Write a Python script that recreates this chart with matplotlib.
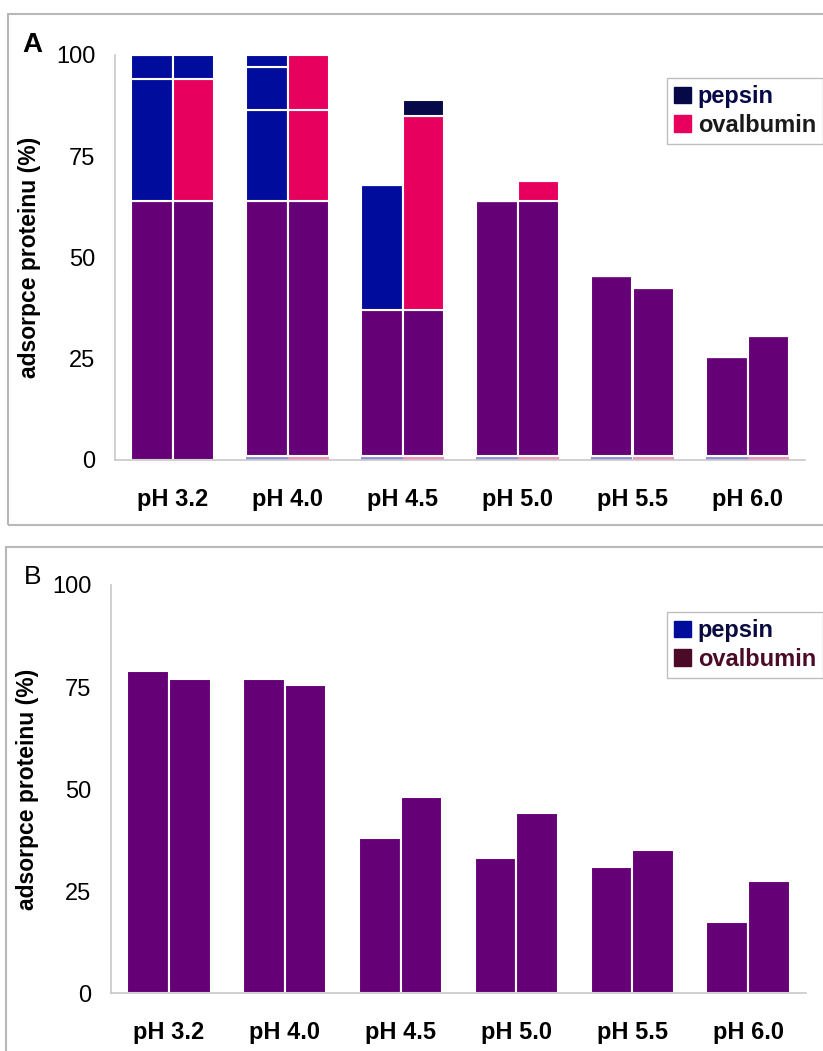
# Adsorpce proteinu (pepsin / ovalbumin) vs pH, panels A and B

import numpy as np
import matplotlib
matplotlib.use('Agg')
import matplotlib.pyplot as plt
from matplotlib.patches import Patch, Rectangle

plt.rcParams['font.family'] = ['Liberation Sans', 'DejaVu Sans']

# Data
groups = ['pH 3.2', 'pH 4.0', 'pH 4.5', 'pH 5.0', 'pH 5.5', 'pH 6.0']

# panel A (stacked segments, bottom to top)
a_strip = [0, 1, 1, 1, 1, 1]
a_pep_base = [64, 64, 37, 64, 45.5, 25.5]
a_ova_base = [64, 64, 37, 64, 42.5, 30.5]
a_pep_mid = [30, 22.5, 31, 0, 0, 0]
a_ova_mid = [30, 22.5, 48, 5, 0, 0]
a_pep_cap = [6, 10.5, 0, 0, 0, 0]
a_pep_top = [0, 3, 0, 0, 0, 0]
a_ova_cap = [6, 13.5, 4, 0, 0, 0]

# panel B
b_pepsin = [79, 77, 38, 33, 31, 17.5]
b_ovalbumin = [77, 75.5, 48, 44, 35, 27.5]

yticks = [0, 25, 50, 75, 100]

# Colors
purple = '#660077'
blue = '#000c9c'
pink = '#e8005f'
navy = '#060848'
maroon = '#4a0a28'
a_ova_cap_colors = [blue, pink, navy, pink, pink, pink]

font = {'size': 17, 'weight': 'bold', 'color': 'black'}

fig = plt.figure(figsize=(8.23, 10.51), dpi=100)

# panel frames
fig.patches.append(Rectangle((8 / 823, 1 - 525 / 1051), 1, 511 / 1051,
                             transform=fig.transFigure, fill=False,
                             edgecolor='#b8b8b8', linewidth=1.5))
fig.patches.append(Rectangle((6 / 823, -0.01), 1, 1 - 547 / 1051 + 0.01,
                             transform=fig.transFigure, fill=False,
                             edgecolor='#b8b8b8', linewidth=1.5))

axA = fig.add_axes([115 / 823, 1 - 460 / 1051, 690 / 823, 405 / 1051])
axB = fig.add_axes([111 / 823, 1 - 993 / 1051, 695 / 823, 408 / 1051])

x = np.arange(len(groups))
w = 0.36
edge = dict(edgecolor='white', linewidth=1.5)

# Panel A
for off, base, mid, cap, mid_col, cap_col, strip_col in [
        (-w / 2, a_pep_base, a_pep_mid, a_pep_cap, blue, blue, '#9090d8'),
        (w / 2, a_ova_base, a_ova_mid, a_ova_cap, pink, a_ova_cap_colors, '#f090b8')]:
    axA.bar(x + off, a_strip, w, color=strip_col, linewidth=0)
    axA.bar(x + off, np.subtract(base, a_strip), w, bottom=a_strip, color=purple, **edge)
    axA.bar(x + off, mid, w, bottom=base, color=mid_col, **edge)
    axA.bar(x + off, cap, w, bottom=np.add(base, mid), color=cap_col, **edge)
axA.bar(x - w / 2, a_pep_top, w,
        bottom=np.add(np.add(a_pep_base, a_pep_mid), a_pep_cap), color=blue, **edge)

# Panel B
axB.bar(x - w / 2, b_pepsin, w, color=purple, **edge)
axB.bar(x + w / 2, b_ovalbumin, w, color=purple, **edge)

for ax, lx in ((axA, -0.107), (axB, -0.103)):
    ax.set_xlim(-0.5, 5.5)
    ax.set_ylim(0, 100)
    ax.set_yticks(yticks)
    ax.set_yticklabels([str(t) for t in yticks], fontsize=17)
    ax.set_xticks(x)
    ax.set_xticklabels(groups, fontdict=font)
    ax.tick_params(axis='both', length=0)
    ax.tick_params(axis='y', pad=14)
    ax.tick_params(axis='x', pad=20)
    for s in ('top', 'right'):
        ax.spines[s].set_visible(False)
    for s in ('left', 'bottom'):
        ax.spines[s].set_color('#c8c8c8')
        ax.spines[s].set_linewidth(1.2)
    ax.set_ylabel('adsorpce proteinu (%)', fontsize=16.5, fontweight='bold')
    ax.yaxis.set_label_coords(lx, 0.5)
    ax.set_facecolor('none')

# Legends
legA = axA.legend(handles=[Patch(color=navy, label='pepsin'),
                           Patch(color=pink, label='ovalbumin')],
                  loc='upper right', bbox_to_anchor=(823 / 823, 1 - 78 / 1051),
                  bbox_transform=fig.transFigure, prop={'size': 17, 'weight': 'bold'},
                  frameon=True, fancybox=False, edgecolor='#b0b0b0',
                  handlelength=0.7, handleheight=0.7, handletextpad=0.3,
                  labelspacing=0.25, borderpad=0.3, borderaxespad=0)
legA.get_texts()[0].set_color(navy)
legA.get_texts()[1].set_color('#1a1a1a')

legB = axB.legend(handles=[Patch(color=blue, label='pepsin'),
                           Patch(color=maroon, label='ovalbumin')],
                  loc='upper right', bbox_to_anchor=(823 / 823, 1 - 612 / 1051),
                  bbox_transform=fig.transFigure, prop={'size': 17, 'weight': 'bold'},
                  frameon=True, fancybox=False, edgecolor='#b0b0b0',
                  handlelength=0.7, handleheight=0.7, handletextpad=0.3,
                  labelspacing=0.25, borderpad=0.3, borderaxespad=0)
legB.get_texts()[0].set_color('#0a0a40')
legB.get_texts()[1].set_color(maroon)

# Panel letters
fig.text(22 / 823, 1 - 52 / 1051, 'A', fontsize=20, fontweight='bold')
fig.text(24 / 823, 1 - 584 / 1051, 'B', fontsize=19)

fig.savefig('out.png', dpi=100)
